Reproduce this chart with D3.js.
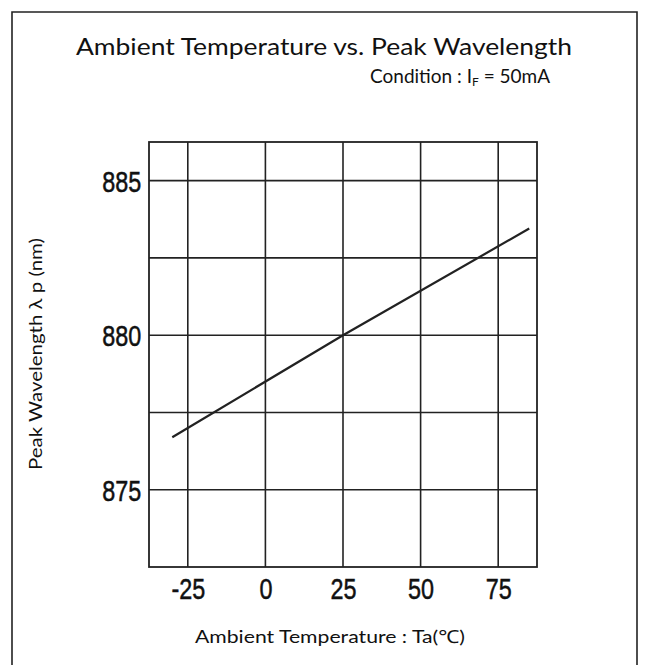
<!DOCTYPE html>
<html><head><meta charset="utf-8">
<script src="https://cdn.jsdelivr.net/npm/d3@7"></script>
<style>body{margin:0;background:#fff}svg{display:block}</style>
</head><body>
<script>
const temps = [-30, 25, 85];
const wavelengths = [876.7, 880.0, 883.45];
const xTicks = [-25, 0, 25, 50, 75];
const yGrid = [875, 877.5, 880, 882.5, 885];
const yTickLabels = [875, 880, 885];
const titleText = "Ambient Temperature vs. Peak Wavelength";
const xLabel = "Ambient Temperature : Ta(\u2103)";
const yLabel = "Peak Wavelength  \u03BB p (nm)";

const W = 651, H = 665;
const svg = d3.select("body").append("svg").attr("width", W).attr("height", H);
const m = {left:149, right:537, top:142, bottom:567};
const x = d3.scaleLinear().domain([-37.5, 87.5]).range([m.left, m.right]);
const y = d3.scaleLinear().domain([872.5, 886.25]).range([m.bottom, m.top]);

// outer frame
svg.append("path").attr("d", `M12,${H+5} L12,12 L637,12 L637,${H+5}`)
  .attr("fill","none").attr("stroke","#222").attr("stroke-width",1.6);

const labFont = "'Lato','Open Sans','Noto Sans',sans-serif";
svg.append("text").attr("x", 324).attr("y", 55).attr("text-anchor","middle")
  .attr("font-family", labFont).attr("font-size", 23).attr("fill","#111")
  .attr("textLength", 496).attr("lengthAdjust","spacingAndGlyphs").text(titleText);

const cond = svg.append("text").attr("x", 370).attr("y", 83)
  .attr("font-family", labFont).attr("font-size", 19).attr("fill","#111");
cond.append("tspan").text("Condition : I");
cond.append("tspan").attr("font-size", 12).attr("dy", 3).text("F");
cond.append("tspan").attr("dy", -3).text(" = 50mA");

// grid
const g = svg.append("g");
g.selectAll("line.v").data(xTicks).join("line")
  .attr("x1", d=>x(d)).attr("x2", d=>x(d)).attr("y1", m.top).attr("y2", m.bottom)
  .attr("stroke","#222").attr("stroke-width",1.6);
g.selectAll("line.h").data(yGrid).join("line")
  .attr("y1", d=>y(d)).attr("y2", d=>y(d)).attr("x1", m.left).attr("x2", m.right)
  .attr("stroke","#222").attr("stroke-width",1.6);
g.append("rect").attr("x", m.left).attr("y", m.top).attr("width", m.right-m.left).attr("height", m.bottom-m.top)
  .attr("fill","none").attr("stroke","#222").attr("stroke-width",1.8);

// axes tick labels via d3 axes
const tickFont = "'Liberation Sans',Arial,sans-serif";
const fmt = d => String(d);
const xAxis = svg.append("g").attr("transform", `translate(0,${m.bottom})`)
  .call(d3.axisBottom(x).tickValues(xTicks).tickSize(0).tickPadding(14).tickFormat(fmt));
xAxis.select(".domain").remove();
xAxis.selectAll("text").attr("font-family", tickFont).attr("font-size", 30).attr("fill","#111")
  .attr("stroke","#111").attr("stroke-width",0.5)
  .attr("dy","0.71em").attr("transform","translate(0,-3) scale(0.78,1)");
const yAxis = svg.append("g").attr("transform", `translate(${m.left},0)`)
  .call(d3.axisLeft(y).tickValues(yTickLabels).tickSize(0).tickPadding(10).tickFormat(fmt));
yAxis.select(".domain").remove();
yAxis.selectAll("text").attr("font-family", tickFont).attr("font-size", 30).attr("fill","#111")
  .attr("stroke","#111").attr("stroke-width",0.5)
  .attr("dy","0.36em").attr("transform","scale(0.78,1)");

// data line
const line = d3.line().x((d,i)=>x(temps[i])).y(d=>y(d));
svg.append("path").datum(wavelengths).attr("d", line)
  .attr("fill","none").attr("stroke","#222").attr("stroke-width",2.2);

// axis titles
svg.append("text").attr("x", 330).attr("y", 643).attr("text-anchor","middle")
  .attr("font-family", labFont).attr("font-size", 18).attr("fill","#111")
  .attr("textLength", 270).attr("lengthAdjust","spacingAndGlyphs").text(xLabel);
svg.append("text").attr("transform","translate(42,354) rotate(-90)").attr("text-anchor","middle")
  .attr("font-family", labFont).attr("font-size", 17).attr("fill","#111")
  .attr("textLength", 232).attr("lengthAdjust","spacingAndGlyphs").text(yLabel);
</script>
</body></html>
